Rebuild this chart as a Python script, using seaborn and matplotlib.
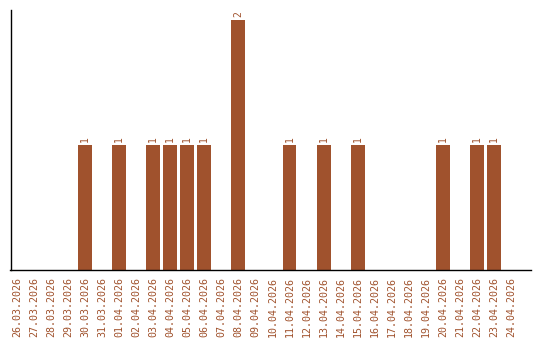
import matplotlib
matplotlib.use("Agg")
import matplotlib.pyplot as plt
import seaborn as sns
import pandas as pd

dates = ["26.03.2026", "27.03.2026", "28.03.2026", "29.03.2026", "30.03.2026",
         "31.03.2026", "01.04.2026", "02.04.2026", "03.04.2026", "04.04.2026",
         "05.04.2026", "06.04.2026", "07.04.2026", "08.04.2026", "09.04.2026",
         "10.04.2026", "11.04.2026", "12.04.2026", "13.04.2026", "14.04.2026",
         "15.04.2026", "16.04.2026", "17.04.2026", "18.04.2026", "19.04.2026",
         "20.04.2026", "21.04.2026", "22.04.2026", "23.04.2026", "24.04.2026"]
counts = [0, 0, 0, 0, 1, 0, 1, 0, 1, 1, 1, 1, 0, 2, 0,
          0, 1, 0, 1, 0, 1, 0, 0, 0, 0, 1, 0, 1, 1, 0]

COLOR = "#A0522D"

sns.set_theme(style="white")
plt.rcParams["font.family"] = ["DejaVu Sans Mono", "DejaVu Sans"]

df = pd.DataFrame({"date": dates, "count": counts})

fig = plt.figure(figsize=(5.4, 3.4), dpi=100)
ax = fig.add_axes([10.5 / 540, 70 / 340, (531 - 10.5) / 540, 260 / 340])

sns.barplot(data=df, x="date", y="count", color=COLOR, width=0.82,
            saturation=1, ax=ax, order=dates, linewidth=0, edgecolor="none")

labels = [str(v) if v else "" for v in counts]
ax.bar_label(ax.containers[0], labels=labels, rotation=90, padding=2,
             color=COLOR, fontsize=7)

ax.set_xlim(-0.38, 30.18)
ax.set_ylim(0, 2.08)
ax.set_xlabel("")
ax.set_ylabel("")
ax.set_yticks([])
ax.tick_params(axis="x", length=0, pad=5, labelsize=7.2, labelcolor=COLOR,
               rotation=90)
for s in ["top", "right"]:
    ax.spines[s].set_visible(False)
for s in ["left", "bottom"]:
    ax.spines[s].set_color("black")
    ax.spines[s].set_linewidth(1)

fig.savefig("out.png", dpi=100)
